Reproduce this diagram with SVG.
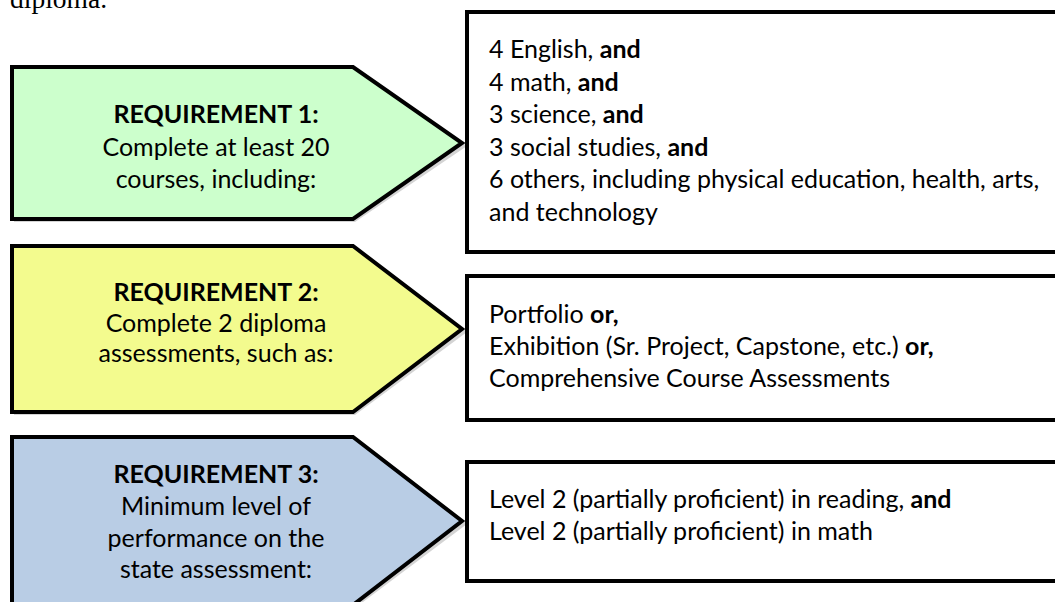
<svg xmlns="http://www.w3.org/2000/svg" width="1055" height="602" viewBox="0 0 1055 602">
<style>
.req{stroke:#000;stroke-width:4;stroke-linejoin:miter;stroke-miterlimit:10}
.shadow{fill:#d4d4d4;stroke:none}
.box{fill:#fff;stroke:#000;stroke-width:4}
.t{font-family:Lato,"Liberation Sans",sans-serif;font-size:25px;fill:#000}
.c{text-anchor:middle}
.b{font-weight:bold}
.serif{font-family:"Liberation Serif","Times New Roman",serif;font-size:27.5px;fill:#000}
</style>
<rect width="1055" height="602" fill="#fff"/>
<text class="serif" x="10" y="7.5">diploma.</text>
<g id="connectors"/>
<g id="req1">
<polygon class="shadow" points="14,70 355,70 467,146 355,222 14,222"/>
<polygon class="req" fill="#ccffcc" points="12,67 353,67 462,143 353,219 12,219"/>
<text class="t c" x="216" y="123"><tspan class="b">REQUIREMENT 1:</tspan><tspan x="216" y="155.5">Complete at least 20</tspan><tspan x="216" y="187.5">courses, including:</tspan></text>
</g>
<g id="box1">
<rect class="box" x="467" y="12" width="620" height="240"/>
<text class="t" x="489" y="58">4 English, <tspan class="b">and</tspan></text>
<text class="t" x="489" y="90.5">4 math, <tspan class="b">and</tspan></text>
<text class="t" x="489" y="123">3 science, <tspan class="b">and</tspan></text>
<text class="t" x="489" y="155.5">3 social studies, <tspan class="b">and</tspan></text>
<text class="t" x="489" y="188">6 others, including physical education, health, arts,</text>
<text class="t" x="489" y="220.5">and technology</text>
</g>
<g id="req2">
<polygon class="shadow" points="14,249 355,249 467,332 355,415 14,415"/>
<polygon class="req" fill="#f3fb8e" points="12,246 353,246 462,329 353,412 12,412"/>
<text class="t c" x="216" y="300.5"><tspan class="b">REQUIREMENT 2:</tspan><tspan x="216" y="331.5">Complete 2 diploma</tspan><tspan x="216" y="362">assessments, such as:</tspan></text>
</g>
<g id="box2">
<rect class="box" x="467" y="276" width="620" height="144"/>
<text class="t" x="489" y="323">Portfolio <tspan class="b">or,</tspan></text>
<text class="t" x="489" y="355">Exhibition (Sr. Project, Capstone, etc.) <tspan class="b">or,</tspan></text>
<text class="t" x="489" y="387">Comprehensive Course Assessments</text>
</g>
<g id="req3">
<polygon class="shadow" points="14,440 355,440 467,524 355,608 14,608"/>
<polygon class="req" fill="#b9cde5" points="12,437 353,437 462,521 353,605 12,605"/>
<text class="t c" x="216" y="482.5"><tspan class="b">REQUIREMENT 3:</tspan><tspan x="216" y="515">Minimum level of</tspan><tspan x="216" y="546.5">performance on the</tspan><tspan x="216" y="578">state assessment:</tspan></text>
</g>
<g id="box3">
<rect class="box" x="467" y="462" width="620" height="119"/>
<text class="t" x="489" y="508">Level 2 (partially proficient) in reading, <tspan class="b">and</tspan></text>
<text class="t" x="489" y="540">Level 2 (partially proficient) in math</text>
</g>
</svg>
